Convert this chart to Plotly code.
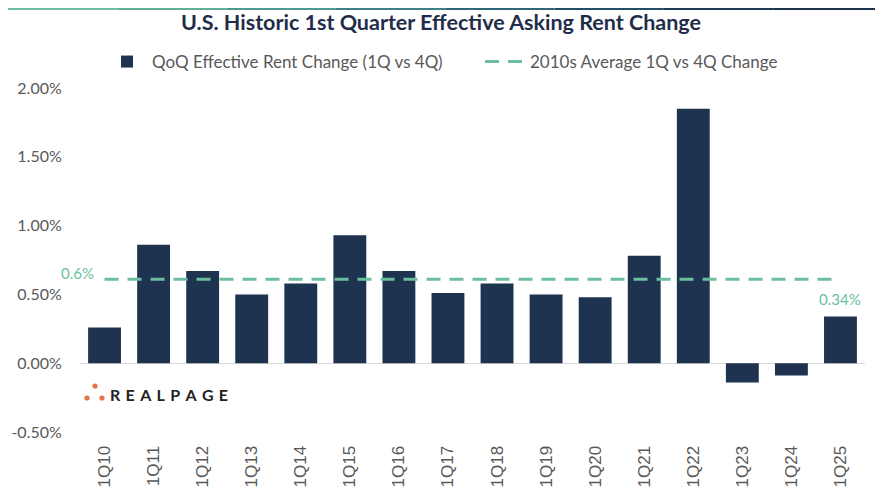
import plotly.graph_objects as go

categories = ["1Q10", "1Q11", "1Q12", "1Q13", "1Q14", "1Q15", "1Q16", "1Q17",
              "1Q18", "1Q19", "1Q20", "1Q21", "1Q22", "1Q23", "1Q24", "1Q25"]
qoq_change = [0.26, 0.86, 0.67, 0.50, 0.58, 0.93, 0.67, 0.51,
              0.58, 0.50, 0.48, 0.78, 1.85, -0.14, -0.09, 0.34]
avg_2010s = [0.61] * len(categories)
y_ticks = [-0.5, 0.0, 0.5, 1.0, 1.5, 2.0]

NAVY = "#1d3350"
TEAL = "#6cbf9e"
GRAY = "#595959"
FONT = "Lato"

# page renders figure offset by the default 8px body margin
OFF = 8
W, H = 883, 497
L = 80 - OFF
T = 88 - OFF
R = W - (865.5 - OFF)
B = H - (432 - OFF)
PW, PH = W - L - R, H - T - B


def px_x(x):
    """screen x -> paper x"""
    return (x - OFF - L) / PW


def px_y(y):
    """screen y -> paper y"""
    return (H - B - (y - OFF)) / PH


fig = go.Figure()
fig.add_trace(go.Bar(
    x=categories, y=qoq_change, name="QoQ Effective Rent Change (1Q vs 4Q)",
    marker=dict(color=NAVY, line=dict(width=0)),
))
fig.add_trace(go.Scatter(
    x=categories, y=avg_2010s, name="2010s Average 1Q vs 4Q Change",
    mode="lines", line=dict(color=TEAL, width=3, dash="14px,9px"),
))

shapes = []
# top gradient border
seg_colors = ["#6cbf9e", "#5fae97", "#4f9a8f", "#3f8086", "#30667a", "#244e68", "#1d3a58", "#1d3350"]
n = len(seg_colors)
for i, c in enumerate(seg_colors):
    shapes.append(dict(type="rect", xref="paper", yref="paper",
                       x0=px_x(OFF + (W - OFF) * i / n), x1=px_x(OFF + (W - OFF) * (i + 1) / n),
                       y0=px_y(OFF + 2), y1=px_y(OFF), fillcolor=c, line=dict(width=0), layer="above"))
# right border
shapes.append(dict(type="line", xref="paper", yref="paper",
                   x0=px_x(877), x1=px_x(877), y0=px_y(H), y1=px_y(OFF),
                   line=dict(color="#d0d0d0", width=2)))
# logo dots
for cx, cy in [(87, 398), (95, 386), (102, 398)]:
    r = 2.6
    shapes.append(dict(type="circle", xref="paper", yref="paper",
                       x0=px_x(cx - r), x1=px_x(cx + r), y0=px_y(cy + r), y1=px_y(cy - r),
                       fillcolor="#e8734a", line=dict(width=0)))

annotations = [
    dict(text="0.6%", xref="paper", yref="y", x=px_x(96), y=0.61, xanchor="right",
         yanchor="middle", yshift=6, showarrow=False, font=dict(family=FONT, size=15, color=TEAL)),
    dict(text="0.34%", xref="x", yref="y", x="1Q25", y=0.34, yanchor="bottom", yshift=6,
         showarrow=False, font=dict(family=FONT, size=15, color=TEAL)),
    dict(text="<b>R\u2004E\u2004A\u2004L\u2004P\u2004A\u2004G\u2004E</b>", xref="paper", yref="paper",
         x=px_x(108), y=px_y(394), xanchor="left", yanchor="middle", showarrow=False,
         font=dict(family=FONT, size=16, color="#222222")),
]

fig.update_layout(
    width=W, height=H,
    margin=dict(l=L, r=R, t=T, b=B, autoexpand=False),
    paper_bgcolor="white", plot_bgcolor="white",
    title=dict(text="<b>U.S. Historic 1st Quarter Effective Asking Rent Change</b>",
               x=(441 - OFF) / W, xref="container", xanchor="center",
               y=1 - (22 - OFF) / H, yref="container", yanchor="middle",
               font=dict(family=FONT, size=21.5, color="#1f2d4a")),
    legend=dict(orientation="h", xref="container", x=(102 - OFF) / W, xanchor="left",
                yref="container", y=1 - (62 - OFF) / H, yanchor="middle",
                font=dict(family=FONT, size=17, color=GRAY), itemwidth=40,
                entrywidth=323, entrywidthmode="pixels",
                traceorder="normal"),
    bargap=0.33,
    shapes=shapes,
    annotations=annotations,
    showlegend=True,
)
fig.update_xaxes(type="category", tickangle=-90, showgrid=False, showline=False,
                 automargin=False,
                 ticks="outside", ticklen=6, tickcolor="white",
                 tickfont=dict(family="Liberation Sans", size=17, color=GRAY), fixedrange=True)
fig.update_yaxes(range=[-0.5, 2.0], tickvals=y_ticks, ticktext=[f"{v:.2f}%" for v in y_ticks],
                 automargin=False,
                 showgrid=False, zeroline=True, zerolinecolor="#d9d9d9", zerolinewidth=1,
                 ticks="outside", ticklen=14, tickcolor="white",
                 tickfont=dict(family=FONT, size=16, color=GRAY))

fig.write_html("out.html")
